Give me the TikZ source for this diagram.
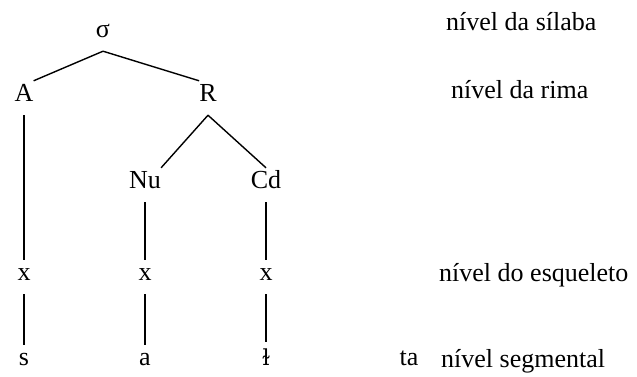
\documentclass[tikz,border=0pt]{standalone}
\usepackage{fontspec}
\setmainfont{Liberation Serif}
\newfontfamily\ipafont{DejaVu Serif}

\tikzset{
	lvl/.style={inner sep=0pt,text height=1.5ex,text depth=0pt,minimum height=34pt,font=\fontsize{26}{30}\selectfont},
	tag/.style={anchor=west,inner sep=0pt,font=\fontsize{26}{30}\selectfont},
	br/.style={line width=1.4pt}
}

\begin{document}
\begin{tikzpicture}[x=1pt,y=-1pt]
	\useasboundingbox (0,0) rectangle (637,376);

	\node [lvl] (sig) at (103,34) {σ};
	\node [lvl] (A) at (24,98) {A};
	\node [lvl] (R) at (208,98) {R};
	\node [lvl] (Nu) at (145,185) {Nu};
	\node [lvl] (Cd) at (266,185) {Cd};

	\node [lvl] (xa) at (24,277) {x};
	\node [lvl] (xb) at (145,277) {x};
	\node [lvl] (xc) at (266,277) {x};

	\node [lvl] (sa) at (24,362) {s};
	\node [lvl] (sb) at (145,362) {a};
	\node [lvl] (sc) at (266,362) {\ipafont\fontsize{22}{26}\selectfont ɫ};
	\node [lvl] (ta) at (409,362) {ta};

	\draw [br] (sig.south) -- (A.north east);
	\draw [br] (sig.south) -- (R.north west);
	\draw [br] (R.south) -- (Nu.north east);
	\draw [br] (R.south) -- (Cd.north);

	\draw [br] (A.south) -- (xa.north);
	\draw [br] (Nu.south) -- (xb.north);
	\draw [br] (Cd.south) -- (xc.north);

	\draw [br] (xa.south) -- (sa.north);
	\draw [br] (xb.south) -- (sb.north);
	\draw [br,shorten >=3pt] (xc.south) -- (sc.north);

	\node [tag] (lsil) at (446,22) {nível da sílaba};
	\node [tag] (lrim) at (451,90) {nível da rima};
	\node [tag] (lesq) at (439,275) {nível do esqueleto};
	\node [tag] (lseg) at (441,361) {nível segmental};
\end{tikzpicture}
\end{document}
